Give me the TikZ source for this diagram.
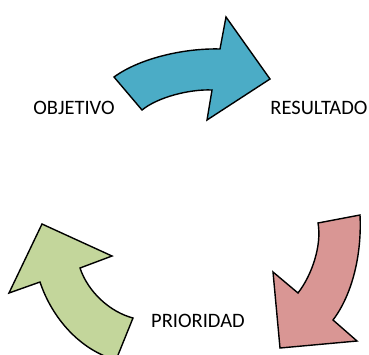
\documentclass[tikz,border=0pt]{standalone}
\usepackage{fontspec}
\setmainfont{Carlito}
\usepackage{tikz}
\usetikzlibrary{positioning}
\definecolor{cycleblue}{RGB}{75,172,198}
\definecolor{cyclered}{RGB}{217,150,148}
\definecolor{cyclegreen}{RGB}{195,214,155}

\begin{document}
\begin{tikzpicture}[x=1pt,y=-1pt,
    bigarrow/.style={draw=black,line width=1.4pt,line join=miter},
    steplabel/.style={font=\fontsize{20.5}{22}\selectfont,inner sep=0pt}]
    \useasboundingbox (0,0) rectangle (369,354);
    \clip (0,0) rectangle (369,354);
        % objetivo -> resultado
        \filldraw[bigarrow,fill=cycleblue] (114,77) .. controls (140,58) and (185,48) .. (220,49)
            -- (226,17) -- (270,79) -- (207,120) -- (212,90)
            .. controls (190,89) and (158,97) .. (142,110) -- cycle;
        % resultado -> prioridad
        \filldraw[bigarrow,fill=cyclered] (318,223) -- (360,215)
            .. controls (362,255) and (352,295) .. (333,320)
            -- (357,341) -- (280,348) -- (273,272) -- (298,293)
            .. controls (312,275) and (322,245) .. cycle;
        % prioridad -> objetivo
        \filldraw[bigarrow,fill=cyclegreen] (40,282) -- (9,293) -- (42,224) -- (112,256) -- (80,268)
            .. controls (88,292) and (110,312) .. (133,318)
            -- (116,360) .. controls (80,350) and (52,318) .. cycle;

        \node[steplabel] (objetivo) at (74,107.5) {OBJETIVO};
        \node[steplabel] (resultado) at (319,107.5) {RESULTADO};
        \node[steplabel] (prioridad) at (198,321) {PRIORIDAD};
\end{tikzpicture}
\end{document}
